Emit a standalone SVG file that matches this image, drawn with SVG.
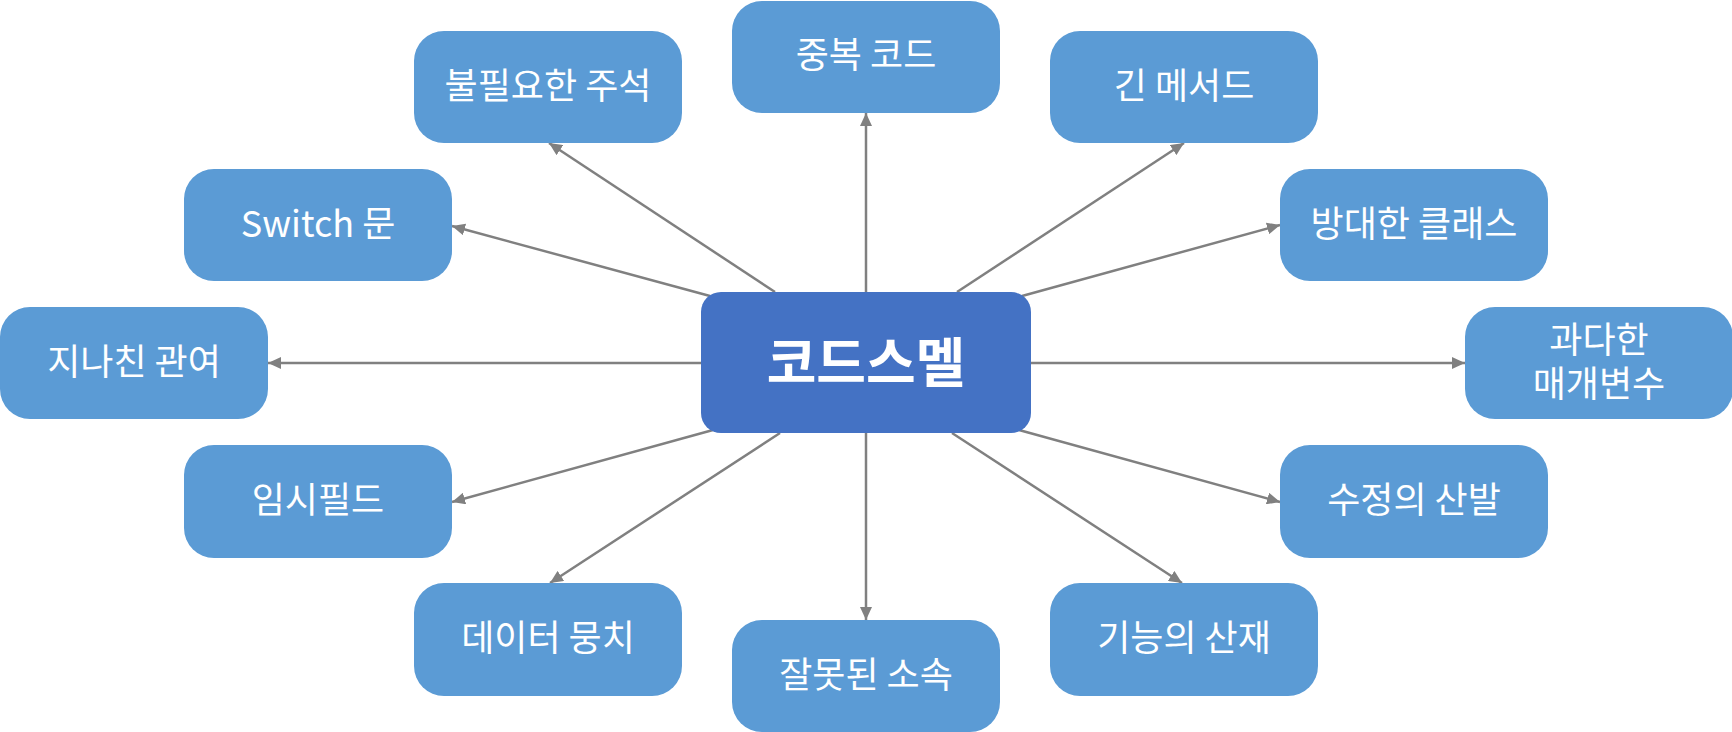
<svg xmlns="http://www.w3.org/2000/svg" width="1732" height="732" viewBox="0 0 1732 732">
<style>
.box{fill:#5B9BD5;}
.hub{fill:#4472C4;}
.t{font-family:"Noto Sans CJK KR","Noto Sans",sans-serif;font-size:36px;fill:#FFFFFF;text-anchor:middle;}
.ht{font-family:"Noto Sans CJK KR","Noto Sans",sans-serif;font-size:54px;font-weight:bold;fill:#FFFFFF;text-anchor:middle;}
.c{stroke:#808080;stroke-width:2.5;fill:none;marker-end:url(#ah);}
</style>
<defs>
<marker id="ah" markerUnits="userSpaceOnUse" markerWidth="14" markerHeight="12" refX="13" refY="6" orient="auto">
<path d="M0,0 L13,6 L0,12 Z" fill="#808080"/>
</marker>
</defs>
<rect width="1732" height="732" fill="#FFFFFF"/>
<g id="connectors">
<line class="c" x1="866" y1="292" x2="866" y2="113"/>
<line class="c" x1="775" y1="292" x2="549" y2="143"/>
<line class="c" x1="710" y1="296" x2="452" y2="226"/>
<line class="c" x1="701" y1="363" x2="268" y2="363"/>
<line class="c" x1="957" y1="292" x2="1184" y2="143"/>
<line class="c" x1="1022" y1="296" x2="1280" y2="225"/>
<line class="c" x1="1031" y1="363" x2="1465" y2="363"/>
<line class="c" x1="713" y1="430" x2="452" y2="502"/>
<line class="c" x1="780" y1="433" x2="550" y2="583"/>
<line class="c" x1="866" y1="433" x2="866" y2="620"/>
<line class="c" x1="1019" y1="430" x2="1280" y2="502"/>
<line class="c" x1="952" y1="433" x2="1182" y2="583"/>
</g>
<g id="hub">
<rect class="hub" x="701" y="292" width="330" height="141" rx="20"/>
<text class="ht" x="866" y="383">코드스멜</text>
</g>
<g id="n-duplicate">
<rect class="box" x="732" y="1" width="268" height="112" rx="30"/>
<text class="t" x="866" y="68">중복 코드</text>
</g>
<g id="n-comments">
<rect class="box" x="414" y="31" width="268" height="112" rx="30"/>
<text class="t" x="548" y="99">불필요한 주석</text>
</g>
<g id="n-longmethod">
<rect class="box" x="1050" y="31" width="268" height="112" rx="30"/>
<text class="t" x="1184" y="99">긴 메서드</text>
</g>
<g id="n-switch">
<rect class="box" x="184" y="169" width="268" height="112" rx="30"/>
<text class="t" x="318" y="237">Switch 문</text>
</g>
<g id="n-largeclass">
<rect class="box" x="1280" y="169" width="268" height="112" rx="30"/>
<text class="t" x="1414" y="237">방대한 클래스</text>
</g>
<g id="n-intimacy">
<rect class="box" x="0" y="307" width="268" height="112" rx="30"/>
<text class="t" x="134" y="375">지나친 관여</text>
</g>
<g id="n-params">
<rect class="box" x="1465" y="307" width="268" height="112" rx="30"/>
<text class="t" x="1599" y="353">과다한</text>
<text class="t" x="1599" y="397">매개변수</text>
</g>
<g id="n-tempfield">
<rect class="box" x="184" y="445" width="268" height="113" rx="30"/>
<text class="t" x="318" y="513">임시필드</text>
</g>
<g id="n-shotgun">
<rect class="box" x="1280" y="445" width="268" height="113" rx="30"/>
<text class="t" x="1414" y="513">수정의 산발</text>
</g>
<g id="n-dataclumps">
<rect class="box" x="414" y="583" width="268" height="113" rx="30"/>
<text class="t" x="548" y="651">데이터 뭉치</text>
</g>
<g id="n-divergent">
<rect class="box" x="1050" y="583" width="268" height="113" rx="30"/>
<text class="t" x="1184" y="651">기능의 산재</text>
</g>
<g id="n-featureenvy">
<rect class="box" x="732" y="620" width="268" height="112" rx="30"/>
<text class="t" x="866" y="688">잘못된 소속</text>
</g>
</svg>
